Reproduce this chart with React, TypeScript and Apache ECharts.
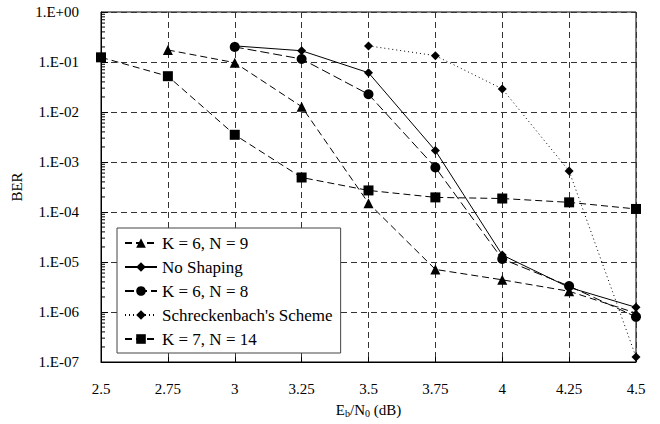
import React, { useEffect, useRef } from "react";
import * as echarts from "echarts";

const X_TICKS = [2.5, 2.75, 3, 3.25, 3.5, 3.75, 4, 4.25, 4.5];
const Y_MIN = 1e-7;
const Y_MAX = 1;

const K6N9_X = [2.75, 3, 3.25, 3.5, 3.75, 4, 4.25, 4.5];
const K6N9_Y = [0.174, 0.097, 0.0128, 1.5e-4, 7.1e-6, 4.4e-6, 2.6e-6, 9.5e-7];

const NOSHAPE_X = [3, 3.25, 3.5, 3.75, 4, 4.25, 4.5];
const NOSHAPE_Y = [0.21, 0.168, 0.061, 1.69e-3, 1.38e-5, 3.1e-6, 1.24e-6];

const K6N8_X = [3, 3.25, 3.5, 3.75, 4, 4.25, 4.5];
const K6N8_Y = [0.2, 0.115, 0.0226, 7.8e-4, 1.15e-5, 3.3e-6, 8.0e-7];

const SCHRECK_X = [3.5, 3.75, 4, 4.25, 4.5];
const SCHRECK_Y = [0.21, 0.134, 0.029, 6.6e-4, 1.26e-7];

const K7N14_X = [2.5, 2.75, 3, 3.25, 3.5, 3.75, 4, 4.25, 4.5];
const K7N14_Y = [0.124, 0.052, 0.0035, 4.9e-4, 2.7e-4, 1.96e-4, 1.86e-4, 1.56e-4, 1.15e-4];

const DECADES = [1e-7, 1e-6, 1e-5, 1e-4, 1e-3, 1e-2, 1e-1];
const MINOR_MULTS = [2, 3, 4, 5, 6, 7, 8, 9];

const FONT = "'Liberation Serif', 'DejaVu Serif', serif";

function pairs(xs: number[], ys: number[]) {
  return xs.map((x, i) => [x, ys[i]]);
}

function fmtExp(v: number) {
  const e = Math.round(Math.log10(v));
  const s = e >= 0 ? "+" : "-";
  const a = Math.abs(e);
  return "1.E" + s + (a < 10 ? "0" : "") + a;
}

export default function App() {
  const ref = useRef<HTMLDivElement>(null);
  useEffect(() => {
    if (!ref.current) return;
    const chart = echarts.init(ref.current, undefined, { renderer: "svg" });
    const minorData: number[][] = [];
    DECADES.forEach((d) => MINOR_MULTS.forEach((m) => minorData.push([X_TICKS[0], d * m])));

    const mk = (name: string, xs: number[], ys: number[], symbol: string, size: number, type: any) => ({
      name,
      type: "line",
      data: pairs(xs, ys),
      symbol,
      symbolSize: size,
      showSymbol: true,
      itemStyle: { color: "#000" },
      lineStyle: { color: "#000", width: 1, type },
      emphasis: { disabled: true },
      z: 3,
    });

    chart.setOption({
      animation: false,
      textStyle: { fontFamily: FONT },
      grid: {
        left: 101,
        right: 24,
        top: 12,
        bottom: 62,
        show: true,
        borderColor: "#000",
        borderWidth: 1,
        backgroundColor: "transparent",
      },
      legend: {
        orient: "vertical",
        left: 117,
        top: 228,
        padding: [6, 8, 5, 7],
        itemGap: 6,
        itemWidth: 32,
        itemHeight: 12,
        backgroundColor: "#fff",
        borderColor: "#444",
        borderWidth: 1,
        borderRadius: 0,
        textStyle: { fontFamily: FONT, fontSize: 17, color: "#000", lineHeight: 18 },
        data: ["K = 6, N = 9", "No Shaping", "K = 6, N = 8", "Schreckenbach's Scheme", "K = 7, N = 14"],
        selectedMode: false,
      },
      xAxis: {
        type: "value",
        min: 2.5,
        max: 4.5,
        interval: 0.25,
        name: "E{sub|b}/N{sub|0} (dB)",
        nameLocation: "middle",
        nameGap: 40,
        nameTextStyle: {
          fontFamily: FONT,
          fontSize: 15,
          color: "#000",
          rich: {
            sub: { fontFamily: FONT, fontSize: 10, color: "#000", verticalAlign: "bottom", padding: [6, 0, 0, 0] },
          },
        },
        axisLine: { show: true, lineStyle: { color: "#000", width: 1 } },
        axisTick: { show: true, inside: true, length: 5, lineStyle: { color: "#000" } },
        axisLabel: { fontFamily: FONT, fontSize: 15, color: "#000", margin: 19 },
        splitLine: { show: true, lineStyle: { color: "#333", width: 1, type: [6, 4] } },
      },
      yAxis: {
        type: "log",
        logBase: 10,
        min: Y_MIN,
        max: Y_MAX,
        name: "BER",
        nameLocation: "middle",
        nameGap: 74,
        nameTextStyle: { fontFamily: FONT, fontSize: 15, color: "#000" },
        axisLine: { show: true, lineStyle: { color: "#000", width: 1 } },
        axisTick: { show: true, inside: true, length: 7, lineStyle: { color: "#000" } },
        axisLabel: { fontFamily: FONT, fontSize: 15, color: "#000", margin: 22, formatter: (v: number) => fmtExp(v) },
        splitLine: { show: true, lineStyle: { color: "#333", width: 1, type: [6, 4] } },
      },
      series: [
        {
          name: "minorTicks",
          type: "custom",
          data: minorData,
          silent: true,
          clip: false,
          z: 1,
          renderItem: (params: any, api: any) => {
            const p = api.coord([api.value(0), api.value(1)]);
            return {
              type: "line",
              shape: { x1: p[0], y1: p[1], x2: p[0] + 4, y2: p[1] },
              style: { stroke: "#000", lineWidth: 1 },
            };
          },
        },
        mk("K = 6, N = 9", K6N9_X, K6N9_Y, "triangle", 10, [7, 4]),
        mk("No Shaping", NOSHAPE_X, NOSHAPE_Y, "diamond", 9, "solid"),
        mk("K = 6, N = 8", K6N8_X, K6N8_Y, "circle", 10, [9, 4]),
        mk("Schreckenbach's Scheme", SCHRECK_X, SCHRECK_Y, "diamond", 9, [1, 3]),
        mk("K = 7, N = 14", K7N14_X, K7N14_Y, "rect", 10, [7, 4]),
      ],
    });
    return () => chart.dispose();
  }, []);
  return <div ref={ref} style={{ width: 660, height: 424, position: "absolute", left: 0, top: 0 }} />;
}
